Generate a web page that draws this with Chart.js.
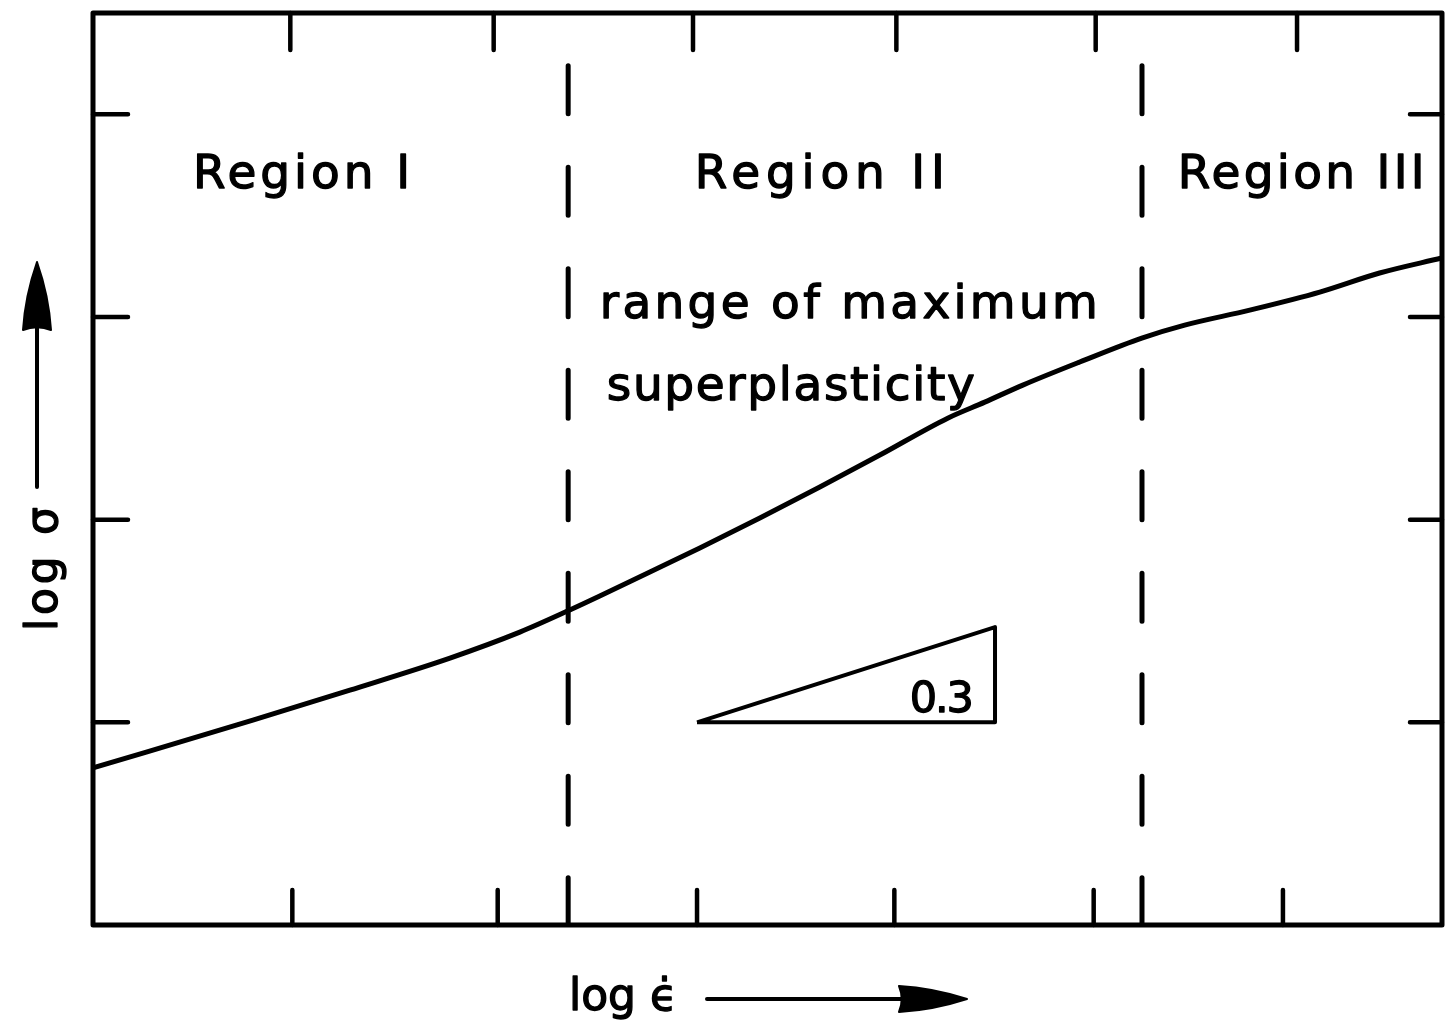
<!DOCTYPE html>
<html>
<head>
<meta charset="utf-8">
<title>log σ vs log ϵ̇ – superplastic regions</title>
<script src="https://cdn.jsdelivr.net/npm/chart.js@4/dist/chart.umd.min.js"></script>
<style>
  html, body { margin: 0; padding: 0; background: #fff; }
  canvas { display: block; }
</style>
</head>
<body>
<canvas id="c" width="1453" height="1028"></canvas>
<script>
// Flow-stress curve: log strain rate (x) against log stress (y), arbitrary units
const curveX = [0, 0.794, 1.276, 1.773, 2.12, 2.368, 2.517, 2.766, 3.014, 3.312, 3.61,
                3.908, 4.245, 4.429, 4.618, 4.901, 5.209, 5.422, 5.745, 6.093, 6.39, 6.698];
const curveY = [0.775, 1.011, 1.159, 1.317, 1.445, 1.554, 1.623, 1.742, 1.86, 2.008, 2.161,
                2.319, 2.501, 2.58, 2.664, 2.778, 2.896, 2.96, 3.034, 3.123, 3.217, 3.291];

// Region boundaries on the strain-rate axis
const dividerX = [2.36, 5.21];
const dividerTop = 4.24;

// Frame tick marks (unlabelled)
const topTicks = [0.98, 1.99, 2.98, 3.99, 4.98, 5.98];
const bottomTicks = [0.99, 2.01, 3.0, 3.98, 4.97, 5.91];
const sideTicks = [1, 2, 3, 4];

// Slope triangle, m = 0.3
const slopeX = [3.0, 4.48];
const slopeY = [1.0, 1.47];
const slopeLabel = '0.3';

// Text
const regionLabels = ['Region I', 'Region II', 'Region III'];
const noteLines = ['range of maximum', 'superplasticity'];
const xTitle = 'log ϵ̇';
const yTitle = 'log σ';

const X_MIN = 0, X_MAX = 6.7, Y_MIN = 0, Y_MAX = 4.5;

// placement of text in data units: [x of left edge, baseline y, target width px]
const regionPlace = [[0.497, 3.636, 217], [2.989, 3.636, 250], [5.387, 3.636, 247]];
const notePlace = [[2.517, 2.995, 498], [2.552, 2.59, 368]];
const slopePlace = [4.057, 1.051, 64];

const FONT = '"DejaVu Sans", "Liberation Sans", sans-serif';

// text drawn with a thin outline so the strokes read as heavy as the lettering
function drawFitted(ctx, text, x, y, size, width) {
  ctx.font = size + 'px ' + FONT;
  ctx.letterSpacing = '0px';
  const natural = ctx.measureText(text).width;
  const n = Math.max(1, [...text].length - 1);
  const sp = (width - natural) / n;
  ctx.letterSpacing = sp.toFixed(2) + 'px';
  ctx.fillText(text, x, y);
  ctx.lineWidth = 1.3;
  ctx.lineJoin = 'round';
  ctx.strokeText(text, x, y);
  ctx.letterSpacing = '0px';
}

function arrowHead(ctx, tipX, tipY, dir, len, half) {
  // dir: unit vector pointing towards the tip
  const [dx, dy] = dir;
  const px = -dy, py = dx;
  const bx = tipX - dx * len, by = tipY - dy * len;
  ctx.beginPath();
  ctx.moveTo(tipX, tipY);
  ctx.quadraticCurveTo(bx + dx * len * 0.5 + px * half * 0.85, by + dy * len * 0.5 + py * half * 0.85,
                       bx + px * half, by + py * half);
  ctx.quadraticCurveTo(bx + dx * len * 0.08, by + dy * len * 0.08,
                       bx - px * half, by - py * half);
  ctx.quadraticCurveTo(bx + dx * len * 0.5 - px * half * 0.85, by + dy * len * 0.5 - py * half * 0.85,
                       tipX, tipY);
  ctx.closePath();
  ctx.fill();
  ctx.lineWidth = 2;
  ctx.stroke();
}

const frameAndText = {
  id: 'frameAndText',
  afterDatasetsDraw(chart) {
    const { ctx, chartArea: a, scales: { x, y } } = chart;
    ctx.save();
    ctx.strokeStyle = '#000';
    ctx.fillStyle = '#000';
    ctx.lineCap = 'round';
    ctx.lineJoin = 'round';

    // frame
    ctx.lineWidth = 5;
    ctx.strokeRect(a.left, a.top, a.right - a.left, a.bottom - a.top);

    // inward tick marks
    ctx.lineWidth = 4.5;
    ctx.beginPath();
    topTicks.forEach(v => {
      const px = x.getPixelForValue(v);
      ctx.moveTo(px, a.top); ctx.lineTo(px, a.top + 37);
    });
    bottomTicks.forEach(v => {
      const px = x.getPixelForValue(v);
      ctx.moveTo(px, a.bottom); ctx.lineTo(px, a.bottom - 35);
    });
    sideTicks.forEach(v => {
      const py = y.getPixelForValue(v);
      ctx.moveTo(a.left, py); ctx.lineTo(a.left + 35, py);
      ctx.moveTo(a.right, py); ctx.lineTo(a.right - 32, py);
    });
    ctx.stroke();

    // labels inside the plot
    ctx.textBaseline = 'alphabetic';
    ctx.textAlign = 'left';
    regionLabels.forEach((t, i) => {
      const [vx, vy, w] = regionPlace[i];
      drawFitted(ctx, t, x.getPixelForValue(vx), y.getPixelForValue(vy), 47, w);
    });
    noteLines.forEach((t, i) => {
      const [vx, vy, w] = notePlace[i];
      drawFitted(ctx, t, x.getPixelForValue(vx), y.getPixelForValue(vy), 47, w);
    });
    drawFitted(ctx, slopeLabel, x.getPixelForValue(slopePlace[0]), y.getPixelForValue(slopePlace[1]), 43, slopePlace[2]);

    // x-axis title with arrow
    drawFitted(ctx, xTitle, a.left + 476, a.bottom + 85, 44, 108);
    ctx.lineWidth = 4;
    ctx.beginPath();
    ctx.moveTo(a.left + 614, a.bottom + 74);
    ctx.lineTo(a.left + 820, a.bottom + 74);
    ctx.stroke();
    arrowHead(ctx, a.left + 874, a.bottom + 74, [1, 0], 68, 13);

    // y-axis title with arrow (reads bottom to top)
    ctx.save();
    ctx.translate(a.left - 36, a.top + 618);
    ctx.rotate(-Math.PI / 2);
    drawFitted(ctx, yTitle, 0, 0, 44, 124);
    ctx.restore();
    ctx.lineWidth = 4;
    ctx.beginPath();
    ctx.moveTo(a.left - 56, a.top + 474);
    ctx.lineTo(a.left - 56, a.top + 300);
    ctx.stroke();
    arrowHead(ctx, a.left - 56, a.top + 249, [0, -1], 68, 14);

    ctx.restore();
  }
};

const datasets = [
  {
    data: curveX.map((v, i) => ({ x: v, y: curveY[i] })),
    borderColor: '#000',
    borderWidth: 5,
    cubicInterpolationMode: 'monotone',
    pointRadius: 0,
    showLine: true
  },
  ...dividerX.map(d => ({
    data: [{ x: d, y: dividerTop }, { x: d, y: Y_MIN }],
    borderColor: '#000',
    borderWidth: 5,
    borderDash: [48, 53.5],
    borderCapStyle: 'round',
    pointRadius: 0,
    showLine: true
  })),
  {
    data: [
      { x: slopeX[0], y: slopeY[0] },
      { x: slopeX[1], y: slopeY[0] },
      { x: slopeX[1], y: slopeY[1] },
      { x: slopeX[0], y: slopeY[0] }
    ],
    borderColor: '#000',
    borderWidth: 4,
    borderJoinStyle: 'round',
    tension: 0,
    pointRadius: 0,
    showLine: true
  }
];

new Chart(document.getElementById('c'), {
  type: 'scatter',
  data: { datasets },
  options: {
    responsive: false,
    animation: false,
    events: [],
    layout: { padding: { left: 93, top: 13, right: 11, bottom: 103 } },
    scales: {
      x: { type: 'linear', min: X_MIN, max: X_MAX, display: false },
      y: { type: 'linear', min: Y_MIN, max: Y_MAX, display: false }
    },
    plugins: { legend: { display: false }, tooltip: { enabled: false } }
  },
  plugins: [frameAndText]
});
</script>
</body>
</html>
